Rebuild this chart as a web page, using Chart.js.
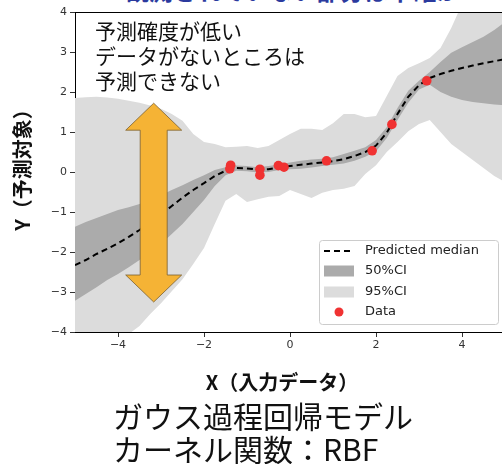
<!DOCTYPE html>
<html><head><meta charset="utf-8">
<script src="https://cdn.jsdelivr.net/npm/chart.js@4.4.1/dist/chart.umd.min.js"></script>
<style>
html,body{margin:0;padding:0;overflow:hidden;background:#fff;width:502px;height:464px}
#wrap{position:relative;width:510px;height:464px;overflow:hidden}
canvas{position:absolute;left:0;top:0}
#cover{position:absolute;left:76px;top:0;width:440px;height:12px;background:#fff}
.t{position:absolute;white-space:nowrap;font-family:"Noto Sans CJK JP","Noto Sans",sans-serif;color:#111}
#head{left:125px;top:-25px;font-size:24px;line-height:30px;font-weight:bold;color:#2b3a9e}
#note{left:95px;top:18px;font-size:21px;line-height:25px}
#xt{left:182px;top:368px;width:200px;text-align:center;font-size:20px;line-height:28px;font-weight:bold}
#yt{left:-58px;top:151px;width:160px;text-align:center;font-size:20px;line-height:28px;font-weight:bold;transform:rotate(-90deg)}
#cap{left:113px;top:399px;font-size:30px;line-height:33px}
</style></head><body>
<div id="wrap">
<canvas id="c" width="510" height="464"></canvas>
<div id="cover"></div>
<div class="t" id="head">観測されていない部分は不確か</div>
<div class="t" id="note">予測確度が低い<br>データがないところは<br>予測できない</div>
<div class="t" id="xt">X（入力データ）</div>
<div class="t" id="yt">Y（予測対象）</div>
<div class="t" id="cap">ガウス過程回帰モデル<br>カーネル関数：RBF</div>
</div>
<script>
const xs = [-5,-4.75,-4.5,-4.25,-4,-3.75,-3.5,-3.25,-3,-2.75,-2.5,-2.25,-2,-1.75,-1.5,-1.25,-1,-0.75,-0.5,-0.25,0,0.25,0.5,0.75,1,1.25,1.5,1.75,2,2.25,2.5,2.75,3,3.25,3.5,3.75,4,4.25,4.5,4.75,5];
const median = [-2.33,-2.2,-2.05,-1.92,-1.78,-1.62,-1.45,-1.27,-1.07,-0.85,-0.64,-0.45,-0.28,-0.1,0.03,0.1,0.09,0.06,0.07,0.12,0.15,0.18,0.21,0.24,0.27,0.32,0.4,0.5,0.66,0.98,1.45,1.88,2.17,2.35,2.45,2.53,2.6,2.66,2.72,2.77,2.82];
const ci50Hi = [-1.37,-1.25,-1.15,-1.05,-0.95,-0.88,-0.8,-0.7,-0.58,-0.45,-0.33,-0.2,-0.08,0.05,0.12,0.16,0.15,0.12,0.15,0.19,0.24,0.28,0.31,0.33,0.37,0.45,0.53,0.62,0.8,1.12,1.6,2.03,2.28,2.5,2.75,2.98,3.12,3.25,3.38,3.55,3.75];
const ci50Lo = [-3.22,-3.05,-2.88,-2.7,-2.55,-2.38,-2.2,-2.0,-1.8,-1.55,-1.3,-1.0,-0.7,-0.35,-0.08,0.03,0.02,-0.01,0.0,0.05,0.07,0.08,0.11,0.15,0.18,0.21,0.28,0.38,0.52,0.85,1.3,1.73,2.06,2.18,2.0,1.88,1.8,1.75,1.72,1.69,1.67];
const ci95Hi = [1.85,1.87,1.88,1.86,1.83,1.78,1.73,1.66,1.58,1.45,1.28,0.95,0.75,0.7,0.62,0.63,0.65,0.6,0.65,0.8,0.95,1.08,1.08,1.05,1.22,1.45,1.45,1.37,1.4,1.9,2.4,2.6,2.72,2.85,3.1,3.6,4.2,4.6,4.9,5.1,5.3];
const ci95Lo = [-4.8,-4.6,-4.4,-4.25,-4.15,-4.05,-3.85,-3.55,-3.28,-2.98,-2.68,-2.3,-1.9,-1.3,-0.72,-0.55,-0.75,-0.68,-0.62,-0.6,-0.45,-0.55,-0.65,-0.52,-0.45,-0.42,-0.35,-0.05,0.17,0.5,0.75,1.02,1.2,1.3,1.0,0.7,0.5,0.3,0.1,-0.1,-0.25];
const dataX = [-1.38,-1.4,-0.7,-0.7,-0.27,-0.14,0.85,1.91,2.37,3.18];
const dataY = [0.17,0.08,0.07,-0.08,0.16,0.12,0.28,0.53,1.19,2.28];
const xTicks = [-4,-2,0,2,4];
const yTicks = [-4,-3,-2,-1,0,1,2,3,4];
const arrowX = -3.17, arrowTop = 1.72, arrowBottom = -3.25;

const pts = arr => xs.map((x,i)=>({x, y:arr[i]}));
const DARK = '#ababab', LIGHT = '#dcdcdc', RED = '#f03232';
const fmt = v => v < 0 ? '\u2212' + Math.abs(v) : String(v);

const deco = {
  id: 'deco',
  afterDatasetsDraw(chart){
    const {ctx, scales:{x, y}} = chart;
    ctx.save();
    const cx = x.getPixelForValue(arrowX), t = y.getPixelForValue(arrowTop), b = y.getPixelForValue(arrowBottom);
    const sw = 13.5, hw = 28, hl = 27;
    ctx.beginPath();
    ctx.moveTo(cx, t); ctx.lineTo(cx + hw, t + hl); ctx.lineTo(cx + sw, t + hl);
    ctx.lineTo(cx + sw, b - hl); ctx.lineTo(cx + hw, b - hl); ctx.lineTo(cx, b);
    ctx.lineTo(cx - hw, b - hl); ctx.lineTo(cx - sw, b - hl); ctx.lineTo(cx - sw, t + hl);
    ctx.lineTo(cx - hw, t + hl); ctx.closePath();
    ctx.fillStyle = '#f5b335'; ctx.fill();
    ctx.strokeStyle = '#7a6030'; ctx.lineWidth = 0.8; ctx.stroke();
    ctx.restore();
  },
  afterDraw(chart){
    const {ctx, chartArea:a} = chart;
    const ds = chart.data.datasets;
    ctx.save();
    ctx.fillStyle = '#fff';
    ctx.fillRect(a.left + 1, 0, chart.width - a.left, a.top);
    ctx.strokeStyle = '#000'; ctx.lineWidth = 1;
    ctx.beginPath(); ctx.moveTo(a.left, a.top + 0.5); ctx.lineTo(a.right, a.top + 0.5); ctx.stroke();
    const bw = 179, bh = 84, bx = a.right - 7 - bw, by = a.bottom - 8 - bh;
    ctx.fillStyle = 'rgba(255,255,255,0.85)';
    ctx.strokeStyle = '#cccccc'; ctx.lineWidth = 1;
    ctx.beginPath(); ctx.roundRect(bx + 0.5, by + 0.5, bw, bh, 3); ctx.fill(); ctx.stroke();
    const rows = [by + 11, by + 31, by + 52, by + 72];
    const hx = bx + 5, hwid = 30, tx = bx + 46;
    ctx.font = '13px "DejaVu Sans"'; ctx.fillStyle = '#222'; ctx.textBaseline = 'middle';
    ctx.strokeStyle = '#000'; ctx.lineWidth = 2; ctx.setLineDash([6,4]);
    ctx.beginPath(); ctx.moveTo(hx, rows[0]); ctx.lineTo(hx + hwid, rows[0]); ctx.stroke();
    ctx.setLineDash([]);
    ctx.fillText(ds[1].label, tx, rows[0]);
    ctx.fillStyle = DARK; ctx.fillRect(hx, rows[1] - 5.5, hwid, 11);
    ctx.fillStyle = '#222'; ctx.fillText(ds[2].label, tx, rows[1]);
    ctx.fillStyle = LIGHT; ctx.fillRect(hx, rows[2] - 5.5, hwid, 11);
    ctx.fillStyle = '#222'; ctx.fillText(ds[4].label, tx, rows[2]);
    ctx.fillStyle = RED; ctx.beginPath(); ctx.arc(hx + hwid / 2, rows[3], 4.5, 0, Math.PI * 2); ctx.fill();
    ctx.fillStyle = '#222'; ctx.fillText(ds[0].label, tx, rows[3]);
    ctx.restore();
  }
};

new Chart(document.getElementById('c'), {
  type: 'line',
  data: {
    datasets: [
      { type: 'scatter', label: 'Data', data: dataX.map((x,i)=>({x, y:dataY[i]})), backgroundColor: RED, borderWidth: 0, pointRadius: 4.8, order: 0 },
      { label: 'Predicted median', data: pts(median), borderColor: '#000', borderWidth: 2, borderDash: [6,4], pointRadius: 0, fill: false, order: 1 },
      { label: '50%CI', data: pts(ci50Hi), borderWidth: 0, borderColor: 'rgba(0,0,0,0)', pointRadius: 0, backgroundColor: DARK, fill: 3, order: 2 },
      { label: '50%CI lower', data: pts(ci50Lo), borderWidth: 0, borderColor: 'rgba(0,0,0,0)', pointRadius: 0, fill: false, order: 3 },
      { label: '95%CI', data: pts(ci95Hi), borderWidth: 0, borderColor: 'rgba(0,0,0,0)', pointRadius: 0, backgroundColor: LIGHT, fill: 5, order: 4 },
      { label: '95%CI lower', data: pts(ci95Lo), borderWidth: 0, borderColor: 'rgba(0,0,0,0)', pointRadius: 0, fill: false, order: 5 }
    ]
  },
  options: {
    responsive: false, animation: false, devicePixelRatio: 1,
    layout: { padding: { left: 0, top: 12, right: 5, bottom: 0 } },
    plugins: { legend: { display: false }, tooltip: { enabled: false } },
    scales: {
      x: {
        type: 'linear', min: -5, max: 5,
        afterBuildTicks: s => { s.ticks = xTicks.map(v => ({ value: v })); },
        afterFit: s => { s.height = 132; },
        grid: { display: true, drawOnChartArea: false, drawTicks: true, tickLength: 5, color: '#333' },
        border: { display: true, color: '#000', width: 1 },
        ticks: { font: { family: 'DejaVu Sans', size: 11 }, color: '#333', padding: 2, callback: fmt, maxRotation: 0 }
      },
      y: {
        type: 'linear', min: -4, max: 4,
        afterBuildTicks: s => { s.ticks = yTicks.map(v => ({ value: v })); },
        afterFit: s => { s.width = 75; },
        grid: { display: true, drawOnChartArea: false, drawTicks: true, tickLength: 5, color: '#333' },
        border: { display: true, color: '#000', width: 1 },
        ticks: { font: { family: 'DejaVu Sans', size: 11 }, color: '#333', padding: 3, callback: fmt }
      }
    }
  },
  plugins: [deco]
});
</script>
</body></html>
